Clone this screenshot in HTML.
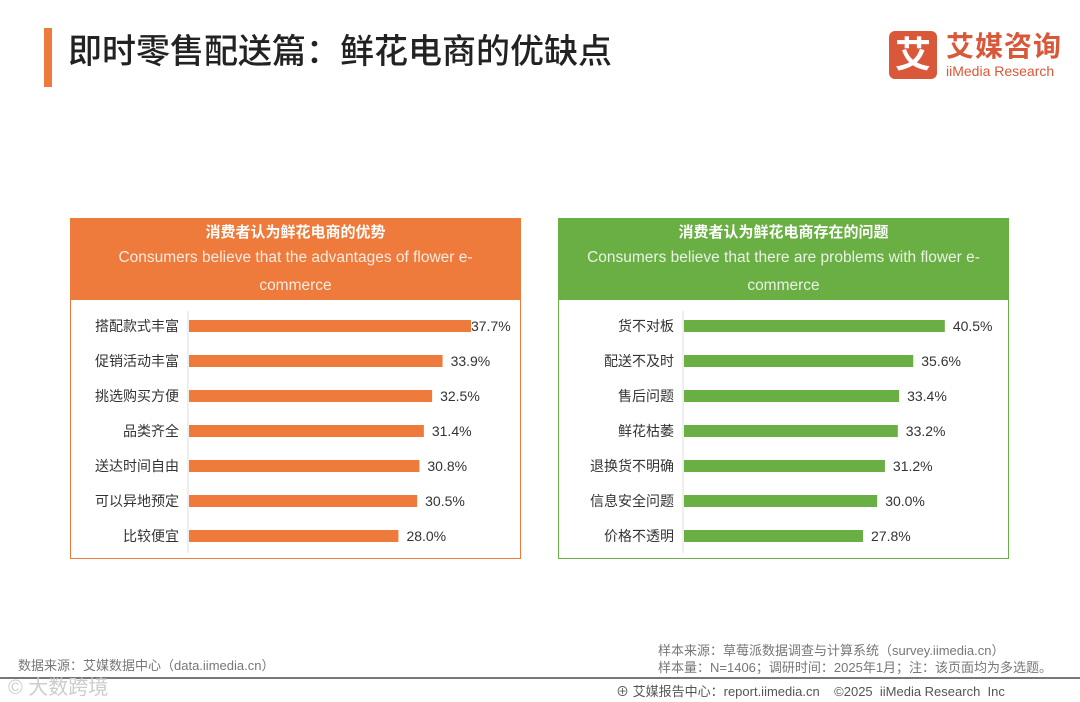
<!DOCTYPE html>
<html><head><meta charset="utf-8">
<style>
body{margin:0;width:1080px;height:702px;background:#fff;position:relative;overflow:hidden;font-family:"Liberation Sans","Noto Sans CJK SC",sans-serif;}
.abs{position:absolute;}
.panel-head{position:absolute;color:#fff;text-align:center;}
.panel-head .cn{font-size:15px;font-weight:bold;margin-top:4px;line-height:22px;}
.panel-head .en{font-size:15.5px;line-height:28px;opacity:.85;white-space:nowrap;}
.box{position:absolute;background:#fff;}
.foot{position:absolute;font-size:13px;color:#777;}
</style></head><body>
<div class="abs" style="left:44px;top:28px;width:8px;height:59px;background:#ee7a3b"></div>
<div class="abs" style="left:68px;top:29px;font-size:34px;color:#222;font-weight:500;line-height:46px">即时零售配送篇：鲜花电商的优缺点</div>
<div class="abs" style="left:889px;top:31px;width:48px;height:48px;background:#d9583a;border-radius:6px;color:#fff;font-size:36px;font-weight:bold;text-align:center;line-height:48px">艾</div>
<div class="abs" style="left:946px;top:30px;font-size:28px;color:#d9583a;font-weight:bold;line-height:34px;letter-spacing:1px">艾媒咨询</div>
<div class="abs" style="left:946px;top:62px;font-size:14px;color:#d9583a;line-height:18px">iiMedia Research</div>

<div class="panel-head" style="left:70px;top:218px;width:451px;height:82px;background:#ee7a3b">
<div class="cn">消费者认为鲜花电商的优势</div><div class="en">Consumers believe that the advantages of flower e-<br>commerce</div></div>
<div class="box" style="left:70px;top:300px;width:449px;height:258px;border:1px solid #ee7a3b;border-top:none"></div>

<div class="panel-head" style="left:558px;top:218px;width:451px;height:82px;background:#6aaf44">
<div class="cn">消费者认为鲜花电商存在的问题</div><div class="en">Consumers believe that there are problems with flower e-<br>commerce</div></div>
<div class="box" style="left:558px;top:300px;width:449px;height:258px;border:1px solid #6aaf44;border-top:none"></div>

<svg class="abs" style="left:0;top:0" width="1080" height="702" id="chart"></svg>

<div class="foot" style="left:18px;top:655px">数据来源：艾媒数据中心（data.iimedia.cn）</div>
<div class="foot" style="left:658px;top:640px">样本来源：草莓派数据调查与计算系统（survey.iimedia.cn）</div>
<div class="foot" style="left:658px;top:657px">样本量：N=1406；调研时间：2025年1月；注：该页面均为多选题。</div>
<div class="abs" style="left:0;top:677px;width:1080px;height:2px;background:#777"></div>
<div class="foot" style="left:8px;top:671px;font-size:20px;color:#ccc">© 大数跨境</div>
<div class="foot" style="left:616px;top:681px;color:#555">⊕ 艾媒报告中心：report.iimedia.cn&nbsp;&nbsp;&nbsp;&nbsp;©2025&nbsp; iiMedia Research&nbsp; Inc</div>

<script>
const leftCats=["搭配款式丰富","促销活动丰富","挑选购买方便","品类齐全","送达时间自由","可以异地预定","比较便宜"];
const leftVals=[37.7,33.9,32.5,31.4,30.8,30.5,28.0];
const rightCats=["货不对板","配送不及时","售后问题","鲜花枯萎","退换货不明确","信息安全问题","价格不透明"];
const rightVals=[40.5,35.6,33.4,33.2,31.2,30.0,27.8];
const svg=document.getElementById('chart');
const NS='http://www.w3.org/2000/svg';
function draw(cats,vals,x0,scale,color,prefix){
  const y=i=>326+i*35;
  const ax=document.createElementNS(NS,'line');
  ax.setAttribute('x1',x0-1);ax.setAttribute('x2',x0-1);ax.setAttribute('y1',311);ax.setAttribute('y2',553);
  ax.setAttribute('stroke','#ddd');
  
  
  svg.appendChild(ax);
  cats.forEach((c,i)=>{
    const w=vals[i]*scale;
    const r=document.createElementNS(NS,'rect');
    r.setAttribute('x',x0);r.setAttribute('y',y(i)-6);r.setAttribute('width',w);r.setAttribute('height',12);r.setAttribute('fill',color);
    
    
    svg.appendChild(r);
    const t=document.createElementNS(NS,'text');
    t.setAttribute('x',x0-10);t.setAttribute('y',y(i)+5);t.setAttribute('text-anchor','end');
    t.setAttribute('font-size','14');t.setAttribute('fill','#333');t.textContent=c;
    
    
    svg.appendChild(t);
    const v=document.createElementNS(NS,'text');
    v.setAttribute('x',x0+w+(i===0&&prefix==='left'?0:8));v.setAttribute('y',y(i)+5);
    v.setAttribute('font-size','14');v.setAttribute('fill','#333');v.textContent=vals[i].toFixed(1)+'%';
    
    
    svg.appendChild(v);
  });
}
draw(leftCats,leftVals,189,7.48,'#ee7a3b','left');
draw(rightCats,rightVals,684,6.44,'#6aaf44','right');
</script>
</body></html>
